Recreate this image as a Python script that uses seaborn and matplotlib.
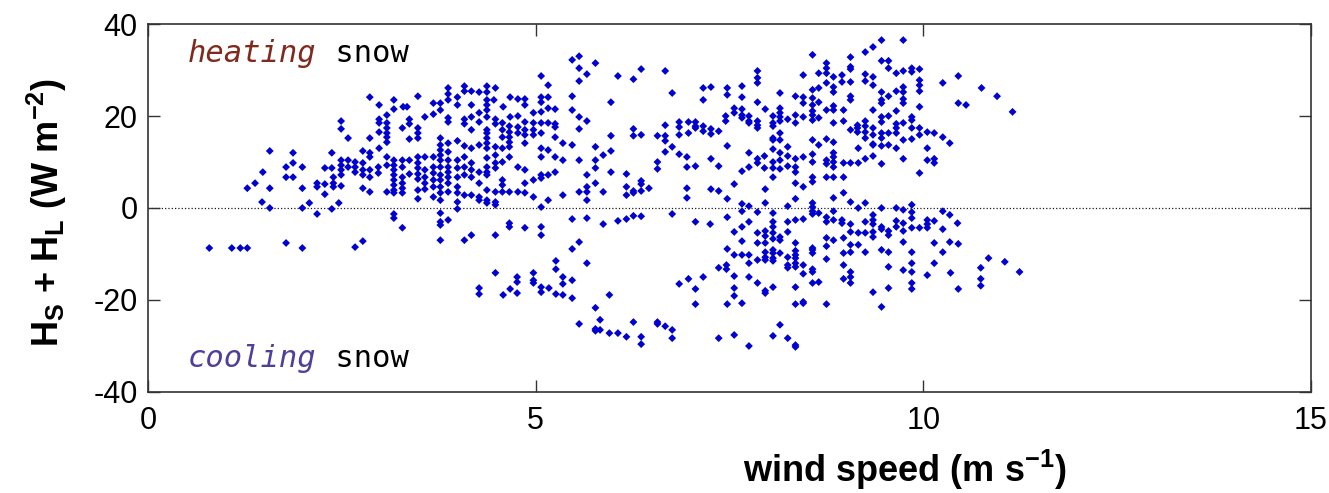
import numpy as np
import pandas as pd
import matplotlib
matplotlib.use('Agg')
import matplotlib.pyplot as plt
import seaborn as sns

# wind speed (m/s) and H_S + H_L (W/m2), grouped by region
low_wind_speed = [
    2.86, 2.98, 3.17, 3.17, 3.08, 2.98, 2.98, 2.49, 2.49, 2.98,
    3.08, 3.08, 3.08, 3.08, 3.08, 2.86, 2.58, 2.98, 1.57, 1.87,
    2.37, 2.77, 2.86, 2.86, 3.08, 3.17, 3.17, 3.17, 3.17, 3.17,
    3.17, 3.17, 3.17, 1.87, 1.78, 1.99, 1.48, 1.78, 1.87, 2.28,
    2.37, 2.49, 2.49, 2.49, 2.49, 2.58, 2.58, 2.67, 2.67, 2.67,
    2.77, 2.77, 2.77, 2.86, 2.86, 2.97, 2.97, 3.08, 2.39, 2.39,
    2.39, 2.18, 2.18, 2.28, 2.49, 1.38, 1.28, 1.57, 1.99, 2.77,
    2.86, 3.08, 2.28, 1.47, 1.57, 1.99, 2.08, 2.18, 2.37, 2.46,
    3.17, 3.17, 0.79, 1.08, 1.19, 1.28, 1.78, 1.99, 2.67, 2.77]
low_wind_flux = [
    24.1, 22.4, 23.5, 21.5, 20.2, 19.3, 18.5, 18.9, 17.2, 16.5,
    18.5, 17.4, 16.3, 15.4, 14.3, 15.2, 15.2, 13.0, 12.4, 12.0,
    12.0, 12.4, 12.0, 11.1, 11.1, 10.4, 9.3, 8.3, 7.2, 6.1,
    5.0, 3.9, 3.3, 9.8, 8.9, 8.9, 7.8, 6.7, 6.7, 8.7,
    8.7, 10.4, 9.3, 8.3, 7.2, 10.4, 8.9, 10.0, 8.9, 7.8,
    9.8, 8.3, 7.2, 8.3, 6.7, 8.9, 7.6, 9.3, 6.7, 5.4,
    4.6, 5.4, 4.6, 5.2, 4.8, 5.4, 4.3, 4.3, 4.3, 4.3,
    3.5, 3.5, 3.0, 1.3, 0.0, 0.0, 1.1, -1.3, -0.2, 1.1,
    -1.3, -2.2, -8.7, -8.7, -8.7, -8.7, -7.6, -8.7, -8.5, -7.2]

mid_upper_speed = [
    3.29, 3.34, 3.48, 3.68, 3.77, 3.57, 3.68, 3.77, 3.87, 3.87,
    3.87, 3.87, 3.87, 3.99, 3.99, 4.08, 4.08, 4.17, 4.17, 4.27,
    4.37, 4.37, 4.37, 4.37, 4.37, 4.48, 4.46, 4.58, 4.08, 4.08,
    4.17, 4.17, 4.27, 4.27, 4.37, 4.37, 4.37, 4.37, 4.48, 4.48,
    4.57, 4.57, 4.57, 4.67, 4.77, 4.86, 4.86, 4.67, 4.77, 4.66,
    4.66, 4.66, 4.66, 4.66, 4.77, 4.77, 4.86, 4.86, 4.86, 4.86,
    4.97, 4.97, 4.97, 4.97, 5.07, 5.07, 5.07, 5.16, 5.16, 5.16,
    5.07, 5.07, 5.07, 5.16, 5.25, 5.25, 5.25, 5.25, 5.47, 5.56,
    5.56, 5.66, 5.56, 5.77, 5.47, 5.47, 5.56, 5.66, 5.56, 5.35,
    5.47, 5.77]
mid_upper_flux = [
    22.0, 22.0, 24.3, 22.8, 22.8, 19.8, 20.4, 21.3, 26.1, 24.8,
    23.5, 19.6, 18.7, 24.1, 22.4, 26.5, 25.4, 25.4, 22.4, 25.2,
    26.5, 25.2, 23.5, 22.4, 21.3, 26.1, 23.5, 22.0, 19.3, 18.3,
    19.8, 17.0, 20.7, 18.7, 19.8, 17.0, 16.3, 15.2, 19.3, 18.3,
    18.5, 17.0, 15.4, 24.1, 23.7, 23.7, 22.4, 19.8, 20.0, 17.8,
    16.5, 15.4, 14.3, 13.3, 17.6, 16.3, 18.7, 17.0, 15.9, 14.1,
    20.7, 18.5, 17.0, 15.9, 28.7, 24.1, 23.0, 26.7, 24.1, 21.7,
    20.9, 18.5, 16.3, 18.5, 21.5, 18.3, 17.6, 15.4, 32.2, 33.0,
    30.4, 29.1, 27.6, 31.5, 24.3, 21.3, 19.8, 18.9, 17.2, 14.1,
    13.7, 13.3]

mid_core_speed = [
    3.28, 3.28, 3.28, 3.28, 3.28, 3.28, 3.37, 3.37, 3.37, 3.37,
    3.37, 3.28, 3.48, 3.48, 3.48, 3.48, 3.48, 3.48, 3.48, 3.48,
    3.48, 3.48, 3.57, 3.57, 3.57, 3.57, 3.57, 3.68, 3.68, 3.68,
    3.68, 3.68, 3.68, 3.77, 3.77, 3.77, 3.77, 3.77, 3.77, 3.77,
    3.77, 3.77, 3.77, 3.77, 3.87, 3.87, 3.87, 3.87, 3.87, 3.87,
    3.87, 3.87, 3.99, 3.99, 3.99, 3.99, 3.99, 3.99, 3.99, 3.99,
    4.08, 4.08, 4.08, 4.08, 4.08, 4.17, 4.17, 4.17, 4.17, 4.17,
    4.27, 4.27, 4.27, 4.27, 4.27, 4.37, 4.37, 4.37, 4.37, 4.37,
    4.37, 4.37, 4.37, 4.37, 4.48, 4.48, 4.48, 4.48, 4.48, 4.48,
    4.48, 4.57, 4.57, 4.57, 4.57, 4.57, 4.66, 4.66, 4.77, 4.77,
    4.86, 4.86, 4.86, 4.97, 4.97, 5.07, 5.07, 5.07, 5.07, 5.07,
    5.16, 5.16, 5.16, 5.25, 5.25, 5.35, 5.35, 5.56, 5.56, 5.66,
    5.66, 5.66, 5.66, 5.77, 5.77, 5.77]
mid_core_flux = [
    10.4, 8.9, 6.7, 5.4, 4.3, 3.3, 10.4, 7.4, 19.3, 18.3,
    15.0, 17.4, 17.4, 16.3, 15.2, 11.1, 9.8, 8.7, 7.4, 6.3,
    3.9, 2.0, 11.1, 8.3, 6.7, 5.4, 4.1, 11.1, 8.9, 7.6,
    6.1, 4.6, 2.4, 15.2, 13.7, 12.6, 11.5, 10.4, 8.9, 7.2,
    6.1, 4.6, 3.3, 1.7, 14.1, 12.2, 10.4, 8.9, 7.8, 6.7,
    5.4, 3.5, 14.6, 10.4, 8.7, 6.7, 4.6, 3.3, 1.3, -0.2,
    13.5, 11.1, 8.9, 7.2, 2.8, 13.0, 9.8, 8.3, 6.7, 2.8,
    13.7, 7.8, 5.4, 2.4, 1.7, 14.1, 13.0, 10.9, 8.9, 7.8,
    7.2, 3.9, 1.7, 1.1, 13.3, 11.5, 9.8, 8.7, 3.5, 1.3,
    0.7, 13.0, 10.0, 6.1, 5.0, 3.5, 11.1, 3.5, 8.9, 3.5,
    8.3, 5.4, 3.3, 6.1, 2.4, 13.0, 11.1, 7.2, 6.5, 0.2,
    12.6, 7.2, 1.7, 11.1, 7.8, 10.4, 2.8, 10.4, 3.5, 7.2,
    4.6, 3.5, 1.7, 10.4, 8.7, 5.4]

mid_neg_speed = [
    3.28, 3.77, 3.77, 3.77, 3.87, 3.77, 4.08, 4.17, 4.48, 4.66,
    4.66, 4.86, 5.07, 5.07, 5.47, 5.66, 5.56, 5.47, 5.26, 5.26,
    5.66, 4.48, 4.76, 4.76, 4.97, 4.97, 4.97, 5.35, 5.35, 5.47,
    4.27, 4.27, 4.67, 4.76, 4.58, 5.07, 5.07, 5.17, 5.26, 5.35,
    5.47, 5.77, 5.56, 5.77, 5.77]
mid_neg_flux = [
    -4.3, -1.1, -3.0, -3.7, -2.6, -7.0, -7.0, -5.9, -5.9, -3.3,
    -4.1, -4.3, -4.1, -5.9, -2.4, -2.2, -7.4, -8.9, -11.5, -13.3,
    -12.0, -14.1, -15.0, -16.1, -14.1, -15.7, -16.3, -15.0, -16.5, -15.7,
    -17.4, -18.7, -17.6, -18.5, -18.9, -17.2, -18.3, -17.4, -18.7, -18.9,
    -19.6, -21.7, -25.2, -26.3, -26.7]

high_pos_speed = [
    6.06, 6.26, 6.36, 6.67, 5.97, 6.76, 7.16, 7.26, 7.16, 7.47,
    7.47, 7.66, 7.66, 7.86, 7.86, 7.86, 7.86, 7.96, 8.15, 8.35,
    7.45, 7.45, 7.56, 7.56, 7.66, 7.66, 7.66, 7.75, 7.75, 7.75,
    7.86, 7.86, 7.86, 8.06, 8.06, 8.06, 8.15, 8.15, 8.15, 8.15,
    8.25, 8.35, 8.35, 6.85, 6.85, 6.85, 6.97, 6.97, 7.06, 7.06,
    7.06, 7.16, 7.16, 7.26, 7.26, 7.36, 6.67, 6.67, 6.67, 6.67,
    6.57, 6.76, 6.26, 6.26, 6.36, 5.97, 5.97, 5.87, 5.97, 5.87,
    6.17, 6.17, 6.17, 6.26, 6.26, 6.36, 6.36, 6.36, 6.46, 6.57,
    6.57, 6.85, 6.95, 6.95, 7.06, 7.26, 7.36, 7.47, 6.95, 6.95,
    7.26, 7.36, 7.47, 7.56, 7.66, 7.75, 7.75, 7.86, 7.86, 7.95,
    7.95, 8.06, 8.06, 8.15, 8.15, 8.06, 8.06, 8.06, 8.06, 8.15,
    8.15, 8.15, 8.25, 8.25, 8.25, 8.35, 8.35, 8.35, 7.96, 8.25,
    8.35, 7.66, 7.66, 7.75, 7.86, 7.96, 8.06]
high_pos_flux = [
    28.7, 28.0, 30.2, 29.8, 23.0, 25.0, 26.1, 26.3, 23.5, 26.1,
    24.6, 26.5, 24.1, 29.8, 28.3, 27.2, 23.0, 21.5, 25.0, 24.3,
    20.0, 18.9, 21.7, 20.7, 21.5, 20.2, 19.6, 20.0, 18.9, 18.5,
    18.9, 18.0, 17.4, 20.0, 18.5, 17.8, 21.7, 20.7, 19.8, 18.9,
    19.3, 20.2, 18.5, 18.7, 17.6, 15.9, 18.7, 16.3, 18.7, 17.8,
    17.4, 17.8, 16.7, 17.2, 16.1, 16.7, 18.0, 15.7, 14.6, 12.2,
    15.7, 13.3, 17.2, 15.7, 15.9, 15.7, 12.4, 11.5, 7.8, 3.5,
    7.4, 4.6, 2.8, 3.7, 3.3, 5.9, 5.2, 3.7, 4.3, 10.0,
    8.5, 11.7, 11.1, 8.9, 9.1, 10.7, 9.1, 13.5, 4.3, 2.2,
    4.1, 3.7, 2.0, 5.2, 8.0, 12.0, 8.9, 10.7, 9.8, 11.3,
    8.7, 15.2, 14.8, 16.3, 14.8, 12.8, 10.0, 8.7, 6.7, 12.0,
    10.4, 8.5, 13.3, 11.3, 9.1, 10.7, 8.9, 5.4, 4.1, 0.4,
    2.0, 0.9, -0.7, 0.4, -0.9, 1.1, -1.1]

high_neg_speed = [
    7.56, 7.66, 7.66, 7.75, 7.86, 7.86, 7.96, 7.96, 7.96, 8.06,
    8.06, 8.06, 8.06, 8.15, 8.15, 8.25, 8.25, 8.35, 8.35, 7.47,
    7.06, 7.25, 6.76, 6.06, 6.17, 6.26, 6.36, 5.87, 7.47]
high_neg_flux = [
    -5.2, -4.1, -7.2, -3.0, -5.4, -7.6, -5.0, -6.1, -7.6, -3.0,
    -4.1, -5.4, -6.7, -6.3, -7.0, -3.0, -5.2, -2.6, -7.6, -2.0,
    -3.0, -3.5, -1.3, -2.8, -2.4, -1.7, -1.8, -3.5, -8.9]

high_deep_speed = [
    7.56, 7.66, 7.75, 7.75, 7.86, 7.96, 7.96, 7.96, 8.06, 8.06,
    8.06, 8.06, 8.15, 8.25, 8.25, 8.25, 8.35, 8.35, 8.35, 8.35,
    8.35, 7.36, 7.46, 7.46, 7.56, 7.75, 7.86, 7.96, 7.96, 8.06,
    7.56, 7.56, 7.66, 7.47, 8.35, 8.35, 7.16, 6.97, 6.85, 7.06,
    7.06, 5.95, 5.83, 5.83, 5.95, 6.06, 6.17, 6.26, 6.36, 6.36,
    6.57, 6.57, 6.67, 6.76, 6.76, 7.36, 7.56, 7.75, 8.06, 8.15,
    8.25, 8.35, 8.35]
high_deep_flux = [
    -10.2, -10.2, -10.2, -12.0, -11.3, -9.6, -10.7, -11.3, -9.1, -9.8,
    -10.9, -11.5, -9.8, -10.7, -12.4, -13.0, -9.3, -10.2, -10.9, -12.0,
    -12.8, -13.0, -12.4, -13.3, -14.8, -15.0, -16.3, -18.0, -18.5, -17.2,
    -17.4, -19.1, -20.7, -20.9, -17.2, -20.9, -15.0, -15.4, -16.5, -17.6,
    -20.9, -18.9, -24.3, -26.5, -27.2, -27.2, -28.0, -24.8, -28.0, -29.6,
    -24.8, -25.2, -25.7, -26.5, -28.3, -28.3, -27.6, -30.0, -27.8, -25.4,
    -28.3, -29.8, -30.2]

top_speed = [
    8.57, 8.45, 8.65, 8.75, 8.75, 8.75, 8.75, 8.84, 8.95, 8.95,
    9.06, 9.06, 9.06, 9.06, 9.25, 9.35, 9.46, 9.74, 9.25, 9.25,
    9.35, 9.35, 9.46, 9.55, 9.55, 9.65, 9.74, 9.85, 9.85, 9.95,
    9.95, 9.95, 9.95, 9.95, 10.25, 10.45, 10.75, 10.95, 10.45, 10.55,
    8.45, 8.45, 8.57, 8.57, 8.57, 8.57, 8.57, 8.57, 8.65, 8.65,
    8.75, 8.84, 8.84, 8.84, 8.84, 8.84, 8.97, 8.97, 9.06, 9.06,
    9.35, 9.46, 9.46, 9.46, 9.55, 9.65, 9.65, 9.74, 9.74, 9.74,
    9.74, 8.45, 8.65, 9.06, 9.15, 9.15, 9.15, 9.25, 9.25, 9.25,
    9.25, 9.35, 9.35, 9.35, 9.46, 9.46, 9.46, 9.46, 9.55, 9.55,
    9.65, 9.65, 9.65, 9.74, 9.74, 9.85, 9.85, 9.85, 9.85, 9.95,
    9.95, 10.05, 10.14, 10.25, 10.34, 8.57, 8.65, 8.75, 8.84, 9.16,
    9.35, 9.46, 9.55, 9.65, 10.05, 8.45, 8.57, 8.57, 8.75, 8.75,
    8.84, 8.84, 8.84, 8.84, 8.97, 9.06, 9.16, 9.25, 9.35, 9.46,
    9.74, 10.05, 10.14, 10.14, 9.95, 8.35, 8.45, 8.57, 8.57, 8.75,
    8.84, 8.97, 8.97, 8.84, 9.06, 9.25, 11.15]
top_flux = [
    33.3, 28.9, 29.3, 31.5, 30.4, 29.3, 27.2, 28.5, 28.9, 27.4,
    32.8, 30.7, 30.2, 27.4, 33.9, 35.0, 36.5, 36.5, 29.1, 27.6,
    28.5, 26.7, 32.0, 32.0, 30.4, 29.3, 29.8, 30.4, 29.6, 30.2,
    27.8, 26.7, 25.4, 22.0, 27.2, 28.7, 26.1, 24.3, 22.8, 22.4,
    24.1, 22.8, 23.9, 22.4, 21.1, 20.2, 19.1, 25.7, 26.1, 23.0,
    21.3, 26.3, 25.2, 22.2, 21.3, 18.5, 21.3, 18.9, 24.3, 23.5,
    21.3, 25.2, 23.5, 22.8, 24.3, 25.4, 21.1, 26.3, 25.2, 23.7,
    22.8, 19.8, 19.6, 17.0, 18.0, 17.4, 16.5, 18.9, 17.8, 16.5,
    15.2, 17.4, 15.9, 13.9, 19.8, 18.7, 16.3, 15.2, 20.0, 16.3,
    18.3, 17.4, 16.3, 18.5, 14.8, 19.8, 19.1, 17.4, 15.0, 17.4,
    15.9, 16.5, 16.3, 15.4, 14.1, 14.8, 13.7, 15.0, 14.3, 13.0,
    13.7, 13.5, 13.7, 13.0, 13.0, 11.1, 11.7, 10.0, 10.4, 9.6,
    12.0, 11.1, 10.0, 8.9, 9.8, 9.8, 9.8, 10.7, 11.3, 9.6,
    10.7, 10.4, 10.7, 9.8, 7.6, 7.8, 4.6, 6.7, 5.7, 6.7,
    6.7, 6.7, 3.3, 2.2, 1.3, 1.1, 20.9]

top_zero_speed = [
    8.57, 8.57, 8.57, 8.57, 8.45, 8.65, 8.75, 8.75, 8.84, 8.84,
    8.95, 8.95, 9.06, 9.06, 9.16, 9.16, 9.25, 9.25, 9.35, 9.35,
    9.35, 9.35, 9.35, 9.46, 9.46, 9.46, 9.55, 9.55, 9.65, 9.65,
    9.65, 9.74, 9.74, 9.74, 9.74, 9.85, 9.85, 9.85, 9.85, 9.95,
    10.05, 10.05, 10.05, 10.14, 10.25, 10.25, 10.34, 10.44, 8.75, 8.84,
    8.97, 9.06, 9.16, 10.14, 10.34, 10.45, 8.57]
top_zero_flux = [
    1.1, 0.2, -0.7, -1.3, -2.4, -1.1, -2.0, -3.0, -0.7, -2.6,
    -2.6, -3.3, -3.5, -5.2, 0.0, -5.4, -3.0, -5.4, -1.5, -2.6,
    -3.5, -5.2, -6.3, 0.0, -4.1, -4.6, -5.0, -5.9, 0.0, -2.8,
    -4.1, -0.4, -3.3, -5.0, -7.4, 0.7, -0.9, -2.2, -4.3, -4.3,
    -2.6, -3.5, -4.3, -2.8, -0.7, -4.6, -1.5, -3.3, -6.5, -7.0,
    -6.5, -8.0, -8.0, -7.6, -7.4, -7.8, -8.7]

top_neg_speed = [
    8.45, 8.45, 8.57, 8.57, 8.57, 8.57, 8.57, 8.65, 8.75, 8.75,
    8.97, 8.97, 8.97, 9.06, 9.06, 9.06, 9.06, 9.25, 9.35, 9.46,
    9.46, 9.55, 9.55, 9.55, 9.74, 9.85, 9.85, 9.85, 9.85, 9.85,
    10.05, 10.14, 10.25, 10.35, 10.45, 10.74, 10.74, 10.74, 10.84, 8.45,
    8.45, 8.75, 11.05, 11.24]
top_neg_flux = [
    -12.4, -14.3, -9.1, -9.8, -13.3, -13.9, -16.3, -16.1, -8.3, -11.1,
    -9.8, -12.4, -15.4, -9.6, -13.9, -15.0, -16.3, -9.6, -18.3, -9.1,
    -21.5, -9.6, -12.8, -17.4, -13.5, -9.6, -12.0, -13.9, -16.3, -17.6,
    -14.6, -12.0, -9.6, -14.1, -17.6, -13.0, -15.4, -16.9, -10.9, -20.4,
    -20.7, -20.9, -11.7, -13.9]

x_ticks = [0, 5, 10, 15]
y_ticks = [-40, -20, 0, 20, 40]

speed_groups = [low_wind_speed, mid_upper_speed, mid_core_speed, mid_neg_speed,
                high_pos_speed, high_neg_speed, high_deep_speed,
                top_speed, top_zero_speed, top_neg_speed]
flux_groups = [low_wind_flux, mid_upper_flux, mid_core_flux, mid_neg_flux,
               high_pos_flux, high_neg_flux, high_deep_flux,
               top_flux, top_zero_flux, top_neg_flux]
for s_, f_ in zip(speed_groups, flux_groups):
    assert len(s_) == len(f_), (len(s_), len(f_))

df = pd.DataFrame({'speed': np.concatenate(speed_groups),
                   'flux': np.concatenate(flux_groups)})

sns.set_theme(style='ticks')
plt.rcParams['font.family'] = ['Liberation Sans', 'DejaVu Sans']
plt.rcParams['axes.unicode_minus'] = False
plt.rcParams['mathtext.fontset'] = 'custom'
plt.rcParams['mathtext.rm'] = 'Liberation Sans:bold'
plt.rcParams['mathtext.it'] = 'Liberation Sans:bold'
plt.rcParams['mathtext.bf'] = 'Liberation Sans:bold'
plt.rcParams['mathtext.default'] = 'rm'
for key in ['text.color', 'axes.labelcolor', 'xtick.labelcolor', 'ytick.labelcolor']:
    plt.rcParams[key] = 'black'

fig = plt.figure(figsize=(13.29, 4.93), dpi=100)
ax = fig.add_axes([0.1114, 0.2049, 0.8751, 0.7464])

sns.scatterplot(data=df, x='speed', y='flux', ax=ax, marker='D', s=16,
                color='#0000d0', edgecolor='none', linewidth=0, legend=False)
ax.axhline(0, color='k', ls=':', lw=0.9, zorder=0)

ax.set_xlim(0, 15)
ax.set_ylim(-40, 40)
ax.set_xticks(x_ticks)
ax.set_yticks(y_ticks)
ax.tick_params(direction='in', length=8.5, width=1, top=True, right=True,
               labelsize=22, color='#333333', labelcolor='black')
ax.tick_params(axis='x', pad=10)
ax.tick_params(axis='y', pad=7.5)
for sp in ax.spines.values():
    sp.set_linewidth(1.2)
    sp.set_color('#333333')

ax.set_xlabel(r'wind speed (m s$^{-1}$)', fontsize=26, fontweight='bold', color='black')
ax.set_ylabel(r'H$_S$ + H$_L$ (W m$^{-2}$)', fontsize=26, fontweight='bold', color='black')
ax.xaxis.set_label_coords(0.651, -0.152)
ax.yaxis.set_label_coords(-0.068, 0.489)

# annotations
mono = 'DejaVu Sans Mono'
t1 = ax.text(0.0344, 0.897, 'heating', transform=ax.transAxes, fontsize=22,
             family=mono, style='italic', color='#7f2a1d', va='baseline')
ax.annotate(' snow', xy=(1, 0), xycoords=t1, va='bottom', ha='left',
            fontsize=22, family=mono, color='black')
t2 = ax.text(0.0344, 0.068, 'cooling', transform=ax.transAxes, fontsize=22,
             family=mono, style='italic', color='#503f9a', va='baseline')
ax.annotate(' snow', xy=(1, 0), xycoords=t2, va='bottom', ha='left',
            fontsize=22, family=mono, color='black')

plt.savefig('out.png', dpi=100)
